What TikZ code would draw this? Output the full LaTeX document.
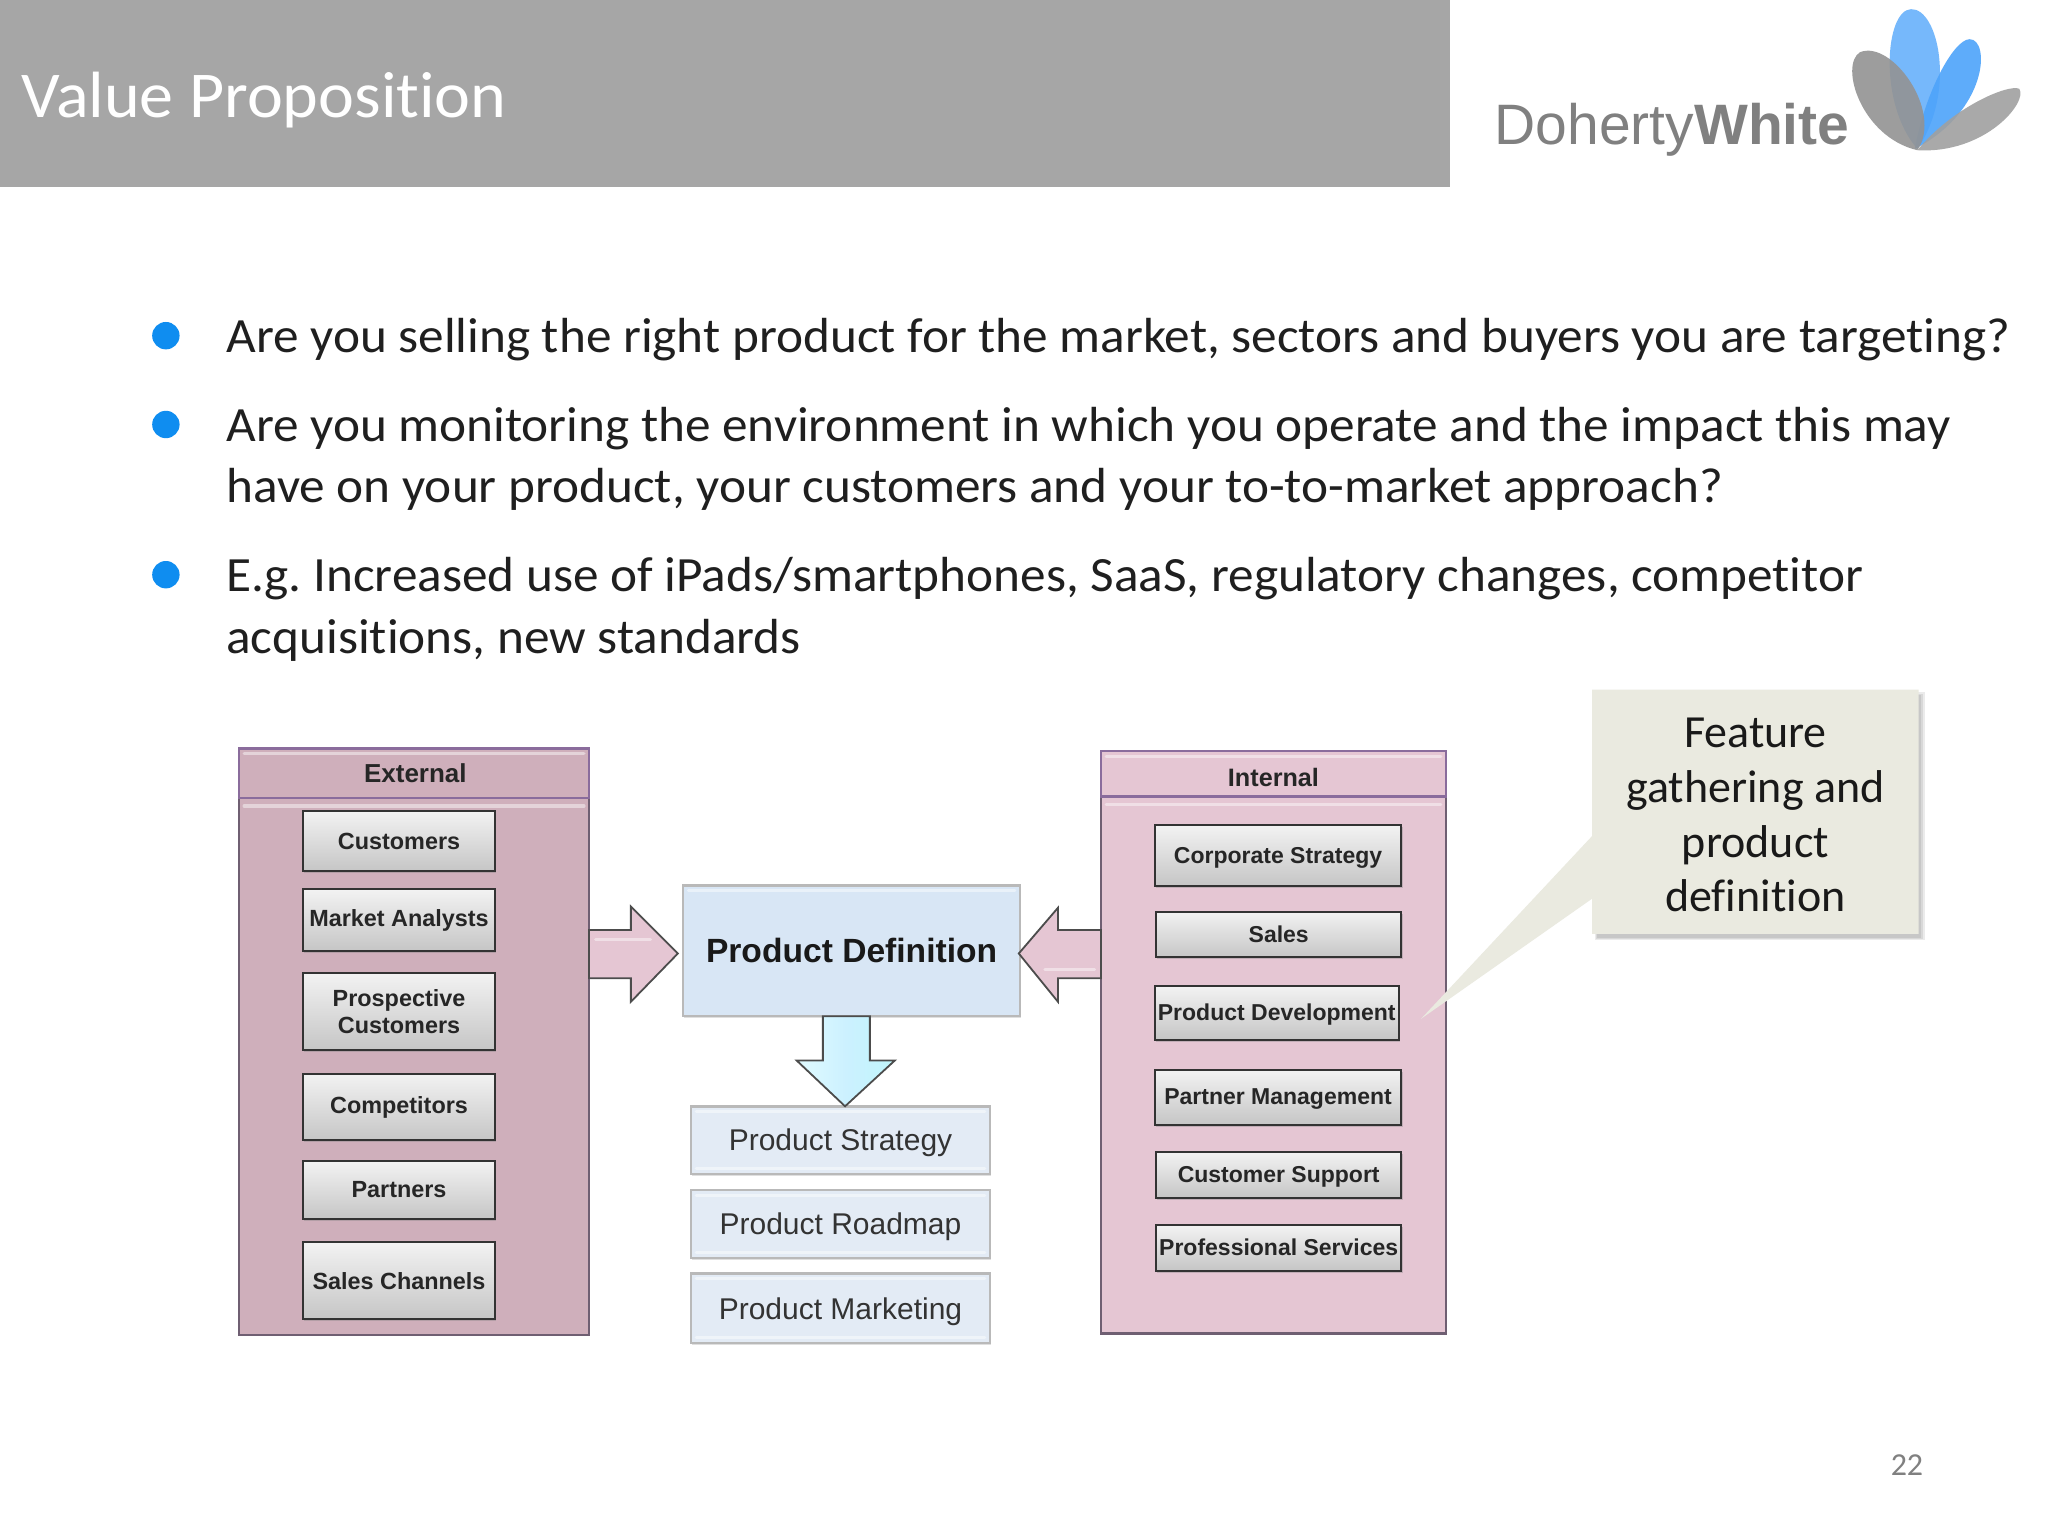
\documentclass[tikz,border=0pt]{standalone}
\usepackage{fontspec}
\setmainfont[Ligatures=CommonOff]{Carlito}
\newfontfamily\bodyf[Ligatures=CommonOff,FakeStretch=1.04]{Carlito}
\newfontfamily\arialf{Liberation Sans}
\usetikzlibrary{shadows,calc}
\definecolor{headgray}{HTML}{A6A6A6}
\definecolor{bulletblue}{HTML}{0F8DF0}
\definecolor{extpink}{HTML}{CFAFBB}
\definecolor{intpink}{HTML}{E5C6D3}
\definecolor{panelline}{HTML}{6F5F72}
\definecolor{bandline}{HTML}{8A6C9C}
\definecolor{pdblue}{HTML}{D8E6F5}
\definecolor{psblue}{HTML}{E3EBF5}
\definecolor{callout}{HTML}{EAEAE0}
\definecolor{logogray}{HTML}{808080}
\definecolor{logoblue}{HTML}{4DA3FA}
\tikzset{
  x=0.65306pt,y=-0.65306pt,
  bodytext/.style={anchor=base west,font=\bodyf\fontsize{24.65}{28}\selectfont\frenchspacing,text=black!88,inner sep=0pt},
  bulletdot/.style={circle,fill=bulletblue,minimum size=13.7pt,inner sep=0pt},
  panel/.style={draw=panelline,line width=1.3pt,inner sep=0pt},
  band/.style={draw=bandline,line width=1.4pt,inner sep=0pt},
  greybox/.style={draw=black!80,line width=1pt,top color=gray!10,bottom color=gray!45,
    drop shadow={shadow xshift=.6pt,shadow yshift=-1pt,opacity=.35},
    inner sep=0pt,align=center,font=\arialf\fontsize{11.7}{13.8}\selectfont\bfseries,text=black!85},
  greyboxn/.style={greybox,font=\arialf\fontsize{11.5}{13}\selectfont\bfseries,text height=10.5pt,text depth=3pt},
  blueout/.style={draw=gray!55,line width=1.2pt,inner sep=0pt,align=center,
    drop shadow={shadow xshift=.5pt,shadow yshift=-1pt,opacity=.25}},
  psbox/.style={blueout,fill=psblue,font=\arialf\fontsize{15}{18}\selectfont,text=black!80,text height=13.4pt,text depth=3.2pt},
  blockpink/.style={draw=black!70,line width=.9pt,fill=#1},
  blockpink/.default=intpink,
  sheen/.style={white,opacity=.45,line width=1.6pt,line cap=round},
  softshade/.style={black,opacity=.08},
}
\newcommand{\bx}[7]{\node[#6,minimum width={(#4-#2)*0.65306pt},minimum height={(#5-#3)*0.65306pt}] (#1) at ({(#2+#4)/2},{(#3+#5)/2}) {#7};}
\newcommand{\sheentop}[1]{\draw[sheen] ($(#1.north west)+(5,5)$) -- ($(#1.north east)+(-5,5)$);}
\newcommand{\sheenbot}[1]{\draw[sheen] ($(#1.south west)+(5,-5)$) -- ($(#1.south east)+(-5,-5)$);}
\begin{document}
\begin{tikzpicture}
\useasboundingbox (0,0) rectangle (1568,1176);
\fill[white] (0,0) rectangle (1568,1176);
% header
\fill[headgray] (0,0) rectangle (1110,143.5);
\node[anchor=base west,inner sep=0pt,text=white,font=\bodyf\fontsize{32.7}{38}\selectfont] (title) at (16,90) {Value Proposition};
% logo
\node[anchor=base west,inner sep=0pt,text=logogray,font=\arialf\fontsize{28.5}{32}\selectfont] (logotext) at (1144,111) {Doherty\textbf{White}};
\begin{scope}[opacity=.9]
\fill[logoblue!85!white] (1468,114) .. controls (1438,80) and (1443,8) .. (1463,7) .. controls (1484,6) and (1498,70) .. (1468,114) -- cycle;
\fill[logoblue] (1466,114) .. controls (1474,70) and (1496,30) .. (1508,30) .. controls (1524,30) and (1522,85) .. (1466,114) -- cycle;
\fill[logogray!85,opacity=.9] (1468,115) .. controls (1425,105) and (1408,50) .. (1424,40) .. controls (1448,30) and (1488,85) .. (1468,115) -- cycle;
\fill[logogray!75,opacity=.9] (1468,115) .. controls (1495,82) and (1538,64) .. (1546,68) .. controls (1553,78) and (1520,118) .. (1468,115) -- cycle;
\end{scope}
% bullets
\node[bulletdot] (b1) at (127,257) {};
\node[bulletdot] (b2) at (127,325) {};
\node[bulletdot] (b3) at (127,440) {};
\node[bodytext] (t1) at (173,270) {Are you selling the right product for the market, sectors and buyers you are targeting?};
\node[bodytext] (t2) at (173,338) {Are you monitoring the environment in which you operate and the impact this may};
\node[bodytext] (t2b) at (173,385) {have on your product, your customers and your to-to-market approach?};
\node[bodytext] (t3) at (173,453) {E.g. Increased use of iPads/smartphones, SaaS, regulatory changes, competitor};
\node[bodytext] (t3b) at (173,500) {acquisitions, new standards};
% External panel
\bx{ext}{183}{573}{451}{1022}{panel,fill=extpink,drop shadow={shadow xshift=.6pt,shadow yshift=-.8pt,opacity=.3}}{}
\bx{exth}{183}{573}{451}{611}{band,fill=extpink}{}
\sheentop{exth}
\draw[sheen] ($(exth.south west)+(5,5)$) -- ($(exth.south east)+(-5,5)$);
\node[font=\arialf\fontsize{13}{14}\selectfont\bfseries,text=black!85] (extl) at (318,592) {External};
\bx{c1}{232}{621}{379}{667}{greybox}{Customers}
\bx{c2}{232}{681}{379}{728}{greybox}{Market Analysts}
\bx{c3}{232}{745}{379}{804}{greybox}{Prospective\\Customers}
\bx{c4}{232}{822}{379}{873}{greybox}{Competitors}
\bx{c5}{232}{889}{379}{933}{greybox}{Partners}
\bx{c6}{232}{951}{379}{1010}{greybox}{Sales Channels}
% Internal panel
\bx{int}{843}{575}{1107}{1021}{panel,fill=intpink}{}
\bx{inth}{843}{575}{1107}{610}{band,fill=intpink}{}
\sheentop{inth}
\draw[sheen] ($(inth.south west)+(5,5)$) -- ($(inth.south east)+(-5,5)$);
\node[font=\arialf\fontsize{12.6}{14}\selectfont\bfseries,text=black!85] (intl) at (975,595) {Internal};
\bx{i1}{884}{632}{1073}{678}{greyboxn}{Corporate Strategy}
\bx{i2}{885}{698}{1073}{733}{greyboxn}{Sales}
\bx{i3}{884}{755}{1071}{796}{greyboxn}{Product Development}
\bx{i4}{884}{819}{1073}{861}{greyboxn}{Partner Management}
\bx{i5}{885}{882}{1073}{917}{greyboxn}{Customer Support}
\bx{i6}{885}{938}{1073}{973}{greyboxn}{Professional Services}
% centre
\bx{pd}{523}{678}{781}{778}{blueout,fill=pdblue,font=\arialf\fontsize{16.8}{20}\selectfont\bfseries,text=black!90}{Product Definition}
\bx{p1}{529}{847}{758}{899}{psbox}{Product Strategy}
\bx{p2}{529}{911}{758}{963}{psbox}{Product Roadmap}
\bx{p3}{529}{975}{758}{1028}{psbox,text height=14.4pt}{Product Marketing}
\sheentop{pd}\sheentop{p1}\sheentop{p2}\sheentop{p3}
\sheenbot{p1}\sheenbot{p2}\sheenbot{p3}
% block arrows
\draw[blockpink=intpink] (451,712) -- (483,712) -- (483,694) -- (519,730) -- (483,767) -- (483,749) -- (451,749) -- cycle;
\draw[sheen] (456,719) -- (498,719);
\draw[blockpink=intpink] (843,712) -- (810,712) -- (810,695) -- (780,730) -- (810,767) -- (810,749) -- (843,749) -- cycle;
\draw[sheen] (800,742) -- (838,742);
\draw[draw=black!70,line width=.9pt,left color=blue!12!cyan!12!white,right color=black!35!blue!15!cyan!25!white,middle color=blue!28!cyan!20!white] (630,778) -- (666,778) -- (666,812) -- (685,812) -- (647,847) -- (610,812) -- (630,812) -- cycle;
% callout
\fill[softshade] (1221,530) rectangle (1474,720);
\fill[softshade] (1222,531) rectangle (1472,719);
\fill[softshade] (1223,532) rectangle (1471,718);
\fill[callout] (1219,528) -- (1469,528) -- (1469,715) -- (1219,715) -- (1219,688) -- (1088,780) -- (1219,640) -- cycle;
\node[inner sep=0pt,align=center,text=black!90,font=\fontsize{23}{27.4}\selectfont] (cal) at (1344,624) {Feature\\gathering and\\product\\definition};
\node[inner sep=0pt,text=gray,font=\fontsize{16}{19}\selectfont] (pg) at (1460,1122) {22};
\end{tikzpicture}
\end{document}
